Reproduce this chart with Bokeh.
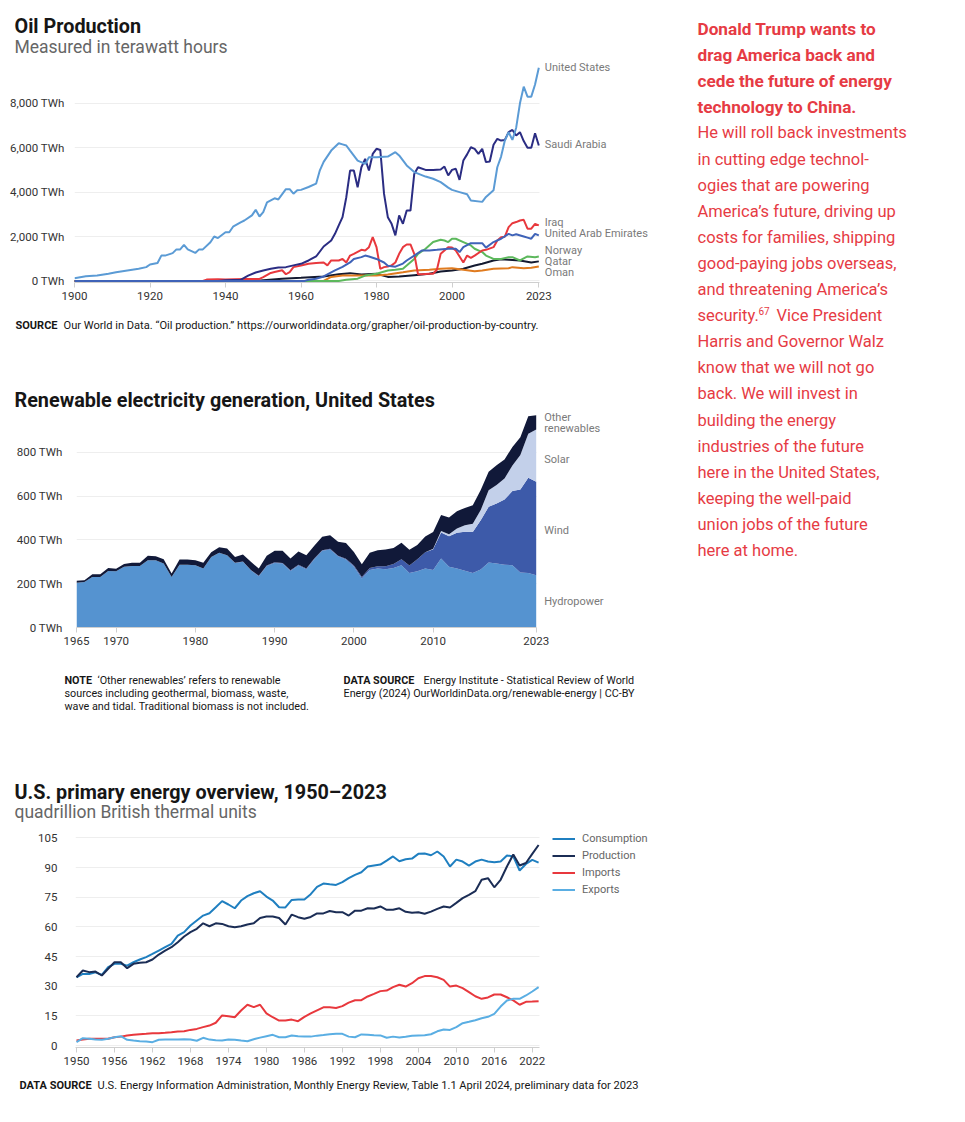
from bokeh.plotting import figure
from bokeh.models import Range1d, Legend, LegendItem, ColumnDataSource
from bokeh.layouts import row, column
from bokeh.embed import file_html
from bokeh.resources import INLINE
from bokeh.core.properties import value

FONT = "Roboto"
INK = "#161616"
GREY = "#7a7a7a"
TICKC = "#333333"
RED = "#e63b44"

# ---------------- Chart 1: oil production (TWh) ----------------
oil_ticks_x = [1900, 1920, 1940, 1960, 1980, 2000, 2023]
oil_ticks_y = [0, 2000, 4000, 6000, 8000]

us_years = [1900,1903,1906,1909,1911,1914,1917,1919,1920,1922,1923,1924,1926,1927,1928,1929,1930,1932,1933,1934,
            1936,1937,1938,1940,1941,1942,1944,1945,1947,1948,1949,1950,1951,1953,1954,1956,1957,1958,1959,1960,
            1962,1964,1965,1966,1968,1970,1971,1972,1973,1975,1977,1978,1980,1983,1985,1986,1988,1990,1993,1995,
            1997,1999,2000,2002,2004,2005,2008,2009,2011,2012,2013,2014,2015,2016,2017,2018,2019,2020,2021,2022,2023]
us_twh = [120,210,240,320,390,470,545,620,740,810,1140,1140,1250,1420,1420,1620,1420,1260,1420,1420,
          1740,2000,1930,2190,2190,2440,2640,2720,2950,3200,2900,3100,3540,3720,3670,4130,4130,3930,4080,4100,
          4230,4380,4980,5360,5870,6200,6150,6100,5870,5420,5270,5570,5570,5600,5800,5650,5200,4900,4700,4600,
          4450,4200,4100,4000,3900,3620,3560,3780,4080,5120,5600,6320,6700,6350,6900,8000,8750,8300,8300,8850,9600]

saudi_years = [1900,1938,1940,1944,1946,1948,1950,1952,1954,1956,1958,1960,1962,1964,1966,1968,1969,1970,1971,1972,
               1973,1974,1975,1976,1977,1978,1979,1980,1981,1982,1983,1984,1985,1986,1987,1988,1989,1990,1991,
               1993,1995,1997,1998,1999,2000,2001,2002,2003,2004,2005,2006,2007,2008,2009,2010,2011,2012,2013,
               2014,2015,2016,2017,2018,2019,2020,2021,2022,2023]
saudi_twh = [0,0,30,50,240,380,470,545,600,620,700,770,920,1100,1550,1820,2120,2500,2870,3770,
             4970,4970,4220,5120,5500,4970,5720,5950,5900,3920,2870,2570,2050,2950,2570,3170,3170,4820,5120,
             5000,5000,5020,5150,4750,5000,5050,4550,5420,5700,6020,5950,5720,5950,5350,5380,6130,6400,6320,
             6350,6700,6800,6550,6700,6300,6000,6000,6650,6100]

iraq_years = [1900,1934,1935,1938,1940,1945,1949,1950,1952,1953,1955,1956,1957,1958,1960,1962,1964,1966,1967,1968,
              1970,1971,1972,1973,1974,1976,1977,1978,1979,1980,1981,1982,1983,1984,1985,1986,1987,1988,1989,1990,
              1991,1992,1994,1995,1996,1997,1999,2000,2001,2002,2003,2004,2005,2006,2008,2009,2011,2012,2013,2014,
              2015,2016,2017,2018,2019,2020,2021,2022,2023]
iraq_twh = [0,0,60,80,60,90,90,170,360,400,480,300,400,620,690,770,810,830,700,920,
            920,990,830,1140,1220,1400,1370,1520,1970,1520,545,620,650,700,830,1220,1520,1640,1640,1220,
            300,300,320,320,500,1220,1520,1500,1370,1100,830,1140,1040,1140,1370,1400,1520,1820,1970,1990,
            2420,2600,2650,2720,2750,2350,2350,2570,2500]

uae_years = [1900,1961,1962,1964,1966,1969,1971,1973,1974,1976,1977,1978,1980,1982,1983,1985,1987,1988,1990,1992,
             1994,1996,1999,2001,2002,2003,2005,2008,2009,2011,2013,2015,2016,2017,2019,2020,2021,2022,2023]
uae_twh = [0,0,50,100,200,470,630,830,990,1070,1140,1100,990,830,680,640,780,920,1140,1370,
           1370,1400,1450,1450,1300,1520,1700,1700,1500,1750,1900,2120,2050,2100,2000,1950,1900,2120,2050]

norway_years = [1900,1970,1972,1975,1977,1980,1983,1985,1987,1988,1990,1991,1993,1995,1997,1998,1999,2000,2001,2003,
                2005,2006,2008,2009,2011,2013,2015,2016,2018,2020,2022,2023]
norway_twh = [0,0,50,100,240,320,470,500,545,690,990,1220,1450,1750,1850,1820,1750,1900,1900,1750,
              1600,1450,1300,1140,990,990,1070,1070,920,1100,1070,1100]

qatar_years = [1900,1948,1950,1955,1960,1966,1970,1973,1976,1980,1983,1986,1990,1994,1997,2000,2003,2006,2008,2011,
               2013,2015,2018,2021,2023]
qatar_twh = [0,0,30,100,140,200,300,350,290,320,180,200,260,320,420,470,545,690,770,920,
             970,950,920,830,880]

oman_years = [1900,1966,1968,1971,1976,1980,1983,1987,1990,1994,1997,2000,2003,2006,2008,2011,2015,2016,2019,2021,2023]
oman_twh = [0,0,180,240,240,240,290,390,470,500,545,570,500,440,470,545,570,620,570,590,650]

oil_names = ["United States", "Saudi Arabia", "Iraq", "United Arab Emirates", "Norway", "Qatar", "Oman"]
oil_label_y = [9610, 6150, 2630, 2135, 1370, 875, 380]

# ---------------- Chart 2: US renewable electricity (TWh) ----------------
ren_years = list(range(1965, 2024))
ren_ticks_x = [1965, 1970, 1980, 1990, 2000, 2010, 2023]
ren_ticks_y = [0, 200, 400, 600, 800]
hydro = [204,208,231,231,258,257,277,281,281,307,
         307,292,231,287,287,284,269,322,341,330,
         295,300,261,234,281,295,292,258,283,266,
         312,350,356,325,310,277,224,262,269,266,
         272,284,249,257,269,262,315,277,269,259,
         249,265,297,292,287,284,251,249,239]
wind = [0]*18 + [0,0,1,1,2,2,2,3,3,3,3,3,3,3,3,3,4,6,
                 7,10,11,14,18,27,34,55,74,95,119,140,163,178,187,225,254,274,297,339,379,435,426]
solar = [0]*45 + [3,6,9,20,30,38,46,76,84,96,117,157,201,239]
other = [9,8,12,12,14,11,13,15,15,20,18,20,15,23,23,23,27,22,
         25,31,26,32,37,33,44,52,55,54,61,61,58,61,62,
         63,72,62,
         58,69,73,76,73,76,72,65,72,76,73,76,79,79,84,92,84,91,87,84,81,79,65]
ren_label_text = ["Hydropower", "Wind", "Solar", "Other", "renewables"]
ren_label_y = [120, 444, 768, 960, 910]

# ---------------- Chart 3: US primary energy (quad Btu) ----------------
en_years = list(range(1950, 2024))
en_ticks_x = list(range(1950, 2023, 6))
en_ticks_y = [0, 15, 30, 45, 60, 75, 90, 105]
consumption = [34.5,36.2,36.2,37.0,35.7,39.6,41.3,41.3,40.4,42.1,
               43.5,44.7,46.3,48.0,49.7,51.4,55.6,57.3,60.7,63.2,
               65.7,66.9,69.9,73.0,71.3,69.4,73.3,75.5,77.0,78.0,
               75.3,73.3,69.9,69.8,73.6,73.8,73.8,76.5,80.2,81.9,
               81.5,81.2,82.6,84.6,86.3,87.6,90.5,91.0,91.5,93.5,
               95.6,93.2,94.2,94.5,96.9,97.1,96.2,98.1,95.6,90.5,
               94.0,93.0,91.0,93.0,94.0,93.0,92.7,93.0,96.1,95.6,
               88.5,91.8,93.9,92.5]
production = [34.5,37.9,37.1,37.4,35.4,38.8,42.1,42.1,39.1,41.3,
              41.8,42.1,43.5,46.0,48.0,49.7,52.2,55.1,57.3,59.0,
              61.8,60.3,61.8,61.5,60.3,59.8,60.3,61.2,61.8,64.5,
              65.2,65.2,64.5,61.2,66.2,64.9,64.1,65.0,66.8,66.8,
              68.0,67.4,67.4,65.7,68.2,68.2,69.4,69.3,70.3,68.6,
              68.6,69.4,67.6,67.1,67.4,66.6,67.7,69.1,70.3,69.8,
              72.1,74.5,76.2,78.0,83.8,84.6,80.0,83.8,90.5,96.6,
              91.0,92.3,96.9,101.4]
imports = [2.5,3.0,3.4,3.4,3.4,3.4,4.2,4.5,5.1,5.4,
           5.7,5.9,6.2,6.2,6.4,6.7,7.1,7.2,7.9,8.4,
           9.3,10.1,11.5,15.2,14.8,14.3,17.7,20.6,19.4,20.6,
           16.3,14.3,12.6,12.6,13.1,12.3,14.5,16.2,17.8,19.3,
           19.3,19.0,19.9,21.7,22.9,22.9,24.8,26.1,27.5,27.8,
           29.5,30.7,29.8,31.5,34.0,35.1,35.1,34.5,33.2,29.8,
           30.3,29.0,27.0,24.9,23.6,24.3,25.8,25.8,24.4,22.8,
           20.6,22.1,22.2,22.4]
exports = [1.7,3.7,3.4,3.0,2.9,3.4,4.2,4.7,2.9,2.5,
           2.2,2.0,1.7,2.9,3.0,3.0,3.0,3.2,3.0,2.4,
           3.9,3.0,2.7,2.5,3.0,2.9,2.5,2.2,3.2,4.0,
           4.7,5.4,4.2,4.2,5.1,4.7,4.6,4.5,5.0,5.3,
           5.7,5.9,5.9,4.5,4.2,5.6,5.4,5.2,5.1,3.9,
           4.5,4.0,4.4,4.9,5.1,5.2,5.7,7.2,8.1,7.9,
           9.3,11.3,12.0,12.8,13.8,14.5,16.0,19.7,22.8,23.6,
           23.6,25.3,27.3,29.5]
en_names = ["Consumption", "Production", "Imports", "Exports"]

# ---------------- Right-hand text ----------------
bold_lines = ["Donald Trump wants to", "drag America back and",
              "cede the future of energy", "technology to China."]
body_lines = ["He will roll back investments", "in cutting edge technol-",
              "ogies that are powering", "America\u2019s future, driving up",
              "costs for families, shipping", "good-paying jobs overseas,",
              "and threatening America\u2019s"]
sec_parts = ["security.", "67", "Vice President"]
body_lines2 = ["Harris and Governor Walz", "know that we will not go",
               "back. We will invest in", "building the energy",
               "industries of the future", "here in the United States,",
               "keeping the well-paid", "union jobs of the future",
               "here at home."]

COLW = 688
TITLE_PX = 19.8
SUB_PX = 17.5


def text_fig(w, h):
    p = figure(width=w, height=h, x_range=Range1d(0, w), y_range=Range1d(h, 0),
               x_axis_type=None, y_axis_type=None, min_border=0, toolbar_location=None,
               output_backend="svg", title=None)
    p.frame_align = False
    p.grid.visible = False
    p.outline_line_color = None
    return p


def put(p, x, y, s, size, color, bold=False):
    p.text(x=[x], y=[y], text=[s], text_font=value(FONT), text_font_size=f"{size}px",
           text_color=color, text_font_style="bold" if bold else "normal", text_baseline="middle")


def chart_fig(left, top, fh, bottom, xr, yr, xb):
    fw = COLW - left
    p = figure(frame_width=fw, frame_height=fh, min_border_left=left, min_border_top=top,
               min_border_right=0, min_border_bottom=bottom, x_range=xr, y_range=yr,
               toolbar_location=None, output_backend="svg", title=None)
    p.frame_align = False
    p.outline_line_color = None
    p.xgrid.grid_line_color = None
    p.ygrid.grid_line_color = "#eeeeee"
    p.ygrid.cross_bounds = xb
    p.xaxis.bounds = xb
    p.xaxis.axis_line_color = "#cfcfcf"
    p.xaxis.major_tick_line_color = "#cfcfcf"
    p.xaxis.major_tick_out = 5
    p.xaxis.major_tick_in = 0
    p.xaxis.minor_tick_line_color = None
    p.xaxis.major_label_standoff = 4
    p.yaxis.axis_line_color = None
    p.yaxis.major_tick_line_color = None
    p.yaxis.minor_tick_line_color = None
    for ax in (p.xaxis, p.yaxis):
        ax.major_label_text_font = FONT
        ax.major_label_text_font_size = "11.5px"
        ax.major_label_text_color = TICKC
    return p


# ======== Block 1 ========
h1 = text_fig(COLW, 56)
put(h1, 14, 26, "Oil Production", TITLE_PX, INK, True)
put(h1, 14, 46, "Measured in terawatt hours", SUB_PX, "#666666")

# frame: left 74, top 60, height 222; 1900 -> px 74, 3.775 px per year
p1 = chart_fig(74, 4, 222, 28, Range1d(1900, 1900 + (COLW - 74) / 3.775), Range1d(-72, 9928), (1900, 2023.3))
p1.xaxis.ticker = oil_ticks_x
p1.yaxis.ticker = oil_ticks_y
p1.yaxis.major_label_overrides = {t: f"{t:,} TWh" for t in oil_ticks_y}
p1.yaxis.major_label_standoff = 4

oil_series = [
    (qatar_years, qatar_twh, "#141a30"),
    (oman_years, oman_twh, "#e07b1f"),
    (norway_years, norway_twh, "#5cb85c"),
    (iraq_years, iraq_twh, "#e8383d"),
    (saudi_years, saudi_twh, "#2b2d83"),
    (uae_years, uae_twh, "#3f63b8"),
    (us_years, us_twh, "#5b9bd5"),
]
for yrs, vals, col in oil_series:
    src = ColumnDataSource(dict(year=yrs, v=vals))
    p1.line("year", "v", source=src, line_color=col, line_width=2)
p1.text(x=[2023] * len(oil_names), y=oil_label_y, text=oil_names, x_offset=6,
        text_font=value(FONT), text_font_size="11px", text_color=GREY, text_baseline="middle")

f1 = text_fig(COLW, 35)
put(f1, 15, 15, "SOURCE", 11, INK, True)
put(f1, 63, 15, "Our World in Data. \u201cOil production.\u201d https://ourworldindata.org/grapher/oil-production-by-country.",
    11.1, INK)

# ======== Block 2 ========
h2 = text_fig(COLW, 66)
put(h2, 14, 55, "Renewable electricity generation, United States", TITLE_PX, INK, True)

# frame: left 76, top 411, height 216; 1965 -> px 76, 7.926 px per year
p2 = chart_fig(76, 0, 216, 33, Range1d(1965, 1965 + (COLW - 76) / 7.926), Range1d(0, 986), (1965, 2023))
p2.xaxis.ticker = ren_ticks_x
p2.yaxis.ticker = ren_ticks_y
p2.yaxis.major_label_overrides = {t: f"{t:,} TWh" for t in ren_ticks_y}
p2.yaxis.major_label_standoff = 8
src2 = ColumnDataSource(dict(year=ren_years, hydro=hydro, wind=wind, solar=solar, other=other))
p2.varea_stack(["hydro", "wind", "solar", "other"], x="year", source=src2,
               color=["#5593d0", "#3d5aa9", "#c3d0ea", "#111939"])
p2.text(x=[2023] * len(ren_label_text), y=ren_label_y, text=ren_label_text, x_offset=8,
        text_font=value(FONT), text_font_size="11px", text_color=GREY, text_baseline="middle")

f2 = text_fig(COLW, 75)
put(f2, 64, 20, "NOTE", 10.8, INK, True)
put(f2, 97, 20, "\u2018Other renewables\u2019 refers to renewable", 10.8, INK)
put(f2, 64, 33, "sources including geothermal, biomass, waste,", 10.8, INK)
put(f2, 64, 46, "wave and tidal. Traditional biomass is not included.", 10.8, INK)
put(f2, 343, 20, "DATA SOURCE", 10.8, INK, True)
put(f2, 423, 20, "Energy Institute - Statistical Review of World", 10.8, INK)
put(f2, 343, 33, "Energy (2024) OurWorldinData.org/renewable-energy | CC-BY", 10.8, INK)

# ======== Block 3 ========
h3 = text_fig(COLW, 95)
put(h3, 14, 57, "U.S. primary energy overview, 1950\u20132023", TITLE_PX, INK, True)
put(h3, 14, 76, "quadrillion British thermal units", SUB_PX, "#666666")

# frame: left 75, top 832, height 215
X3S = 1949.84
X3PX = 6.33
p3 = chart_fig(75, 2, 215, 25, Range1d(X3S, X3S + (COLW - 75) / X3PX), Range1d(-1, 107.7), (X3S, 2023.1))
p3.xaxis.ticker = en_ticks_x
p3.yaxis.ticker = en_ticks_y
p3.yaxis.major_label_standoff = 12
src3 = ColumnDataSource(dict(year=en_years, consumption=consumption, production=production,
                             imports=imports, exports=exports))
en_cols = ["consumption", "production", "imports", "exports"]
en_colors = ["#1f7fc0", "#1b2d55", "#e8383d", "#5aaee3"]
items = []
for name, col, c in zip(en_names, en_cols, en_colors):
    r = p3.line("year", col, source=src3, line_color=c, line_width=2)
    items.append(LegendItem(label=name, renderers=[r]))
leg = Legend(items=items, location=(477, 149), orientation="vertical", glyph_width=23, glyph_height=17,
             label_height=17, spacing=0, padding=0, margin=0, label_standoff=7,
             label_text_font=FONT, label_text_font_size="11px", label_text_color="#666666",
             border_line_color=None, background_fill_alpha=0)
p3.add_layout(leg)

f3 = text_fig(COLW, 28)
put(f3, 19, 13, "DATA SOURCE", 11, INK, True)
put(f3, 97, 13, "U.S. Energy Information Administration, Monthly Energy Review, Table 1.1 April 2024, "
                "preliminary data for 2023", 11.1, INK)

# ======== Text panel ========
TW, TH = 269, 580
pt = text_fig(TW, TH)
LH = 26.1
Y0 = 28
nb = len(bold_lines)
pt.text(x=[9] * nb, y=[Y0 + LH * i for i in range(nb)], text=bold_lines, text_font=value(FONT),
        text_font_size="17.2px", text_font_style="bold", text_color=RED, text_baseline="middle")
ya = [Y0 + LH * (nb + i) for i in range(len(body_lines))]
pt.text(x=[9] * len(body_lines), y=ya, text=body_lines, text_font=value(FONT),
        text_font_size="16.5px", text_color=RED, text_baseline="middle")
ys = Y0 + LH * (nb + len(body_lines))
pt.text(x=[9, 88], y=[ys, ys], text=[sec_parts[0], sec_parts[2]], text_font=value(FONT),
        text_font_size="16.5px", text_color=RED, text_baseline="middle")
pt.text(x=[70], y=[ys - 5], text=[sec_parts[1]], text_font=value(FONT),
        text_font_size="10px", text_color=RED, text_baseline="middle")
yb = [ys + LH * (i + 1) for i in range(len(body_lines2))]
pt.text(x=[9] * len(body_lines2), y=yb, text=body_lines2, text_font=value(FONT),
        text_font_size="16.5px", text_color=RED, text_baseline="middle")

layout = row(column(h1, p1, f1, h2, p2, f2, h3, p3, f3), pt)
open("out.html", "w").write(file_html(layout, INLINE))
